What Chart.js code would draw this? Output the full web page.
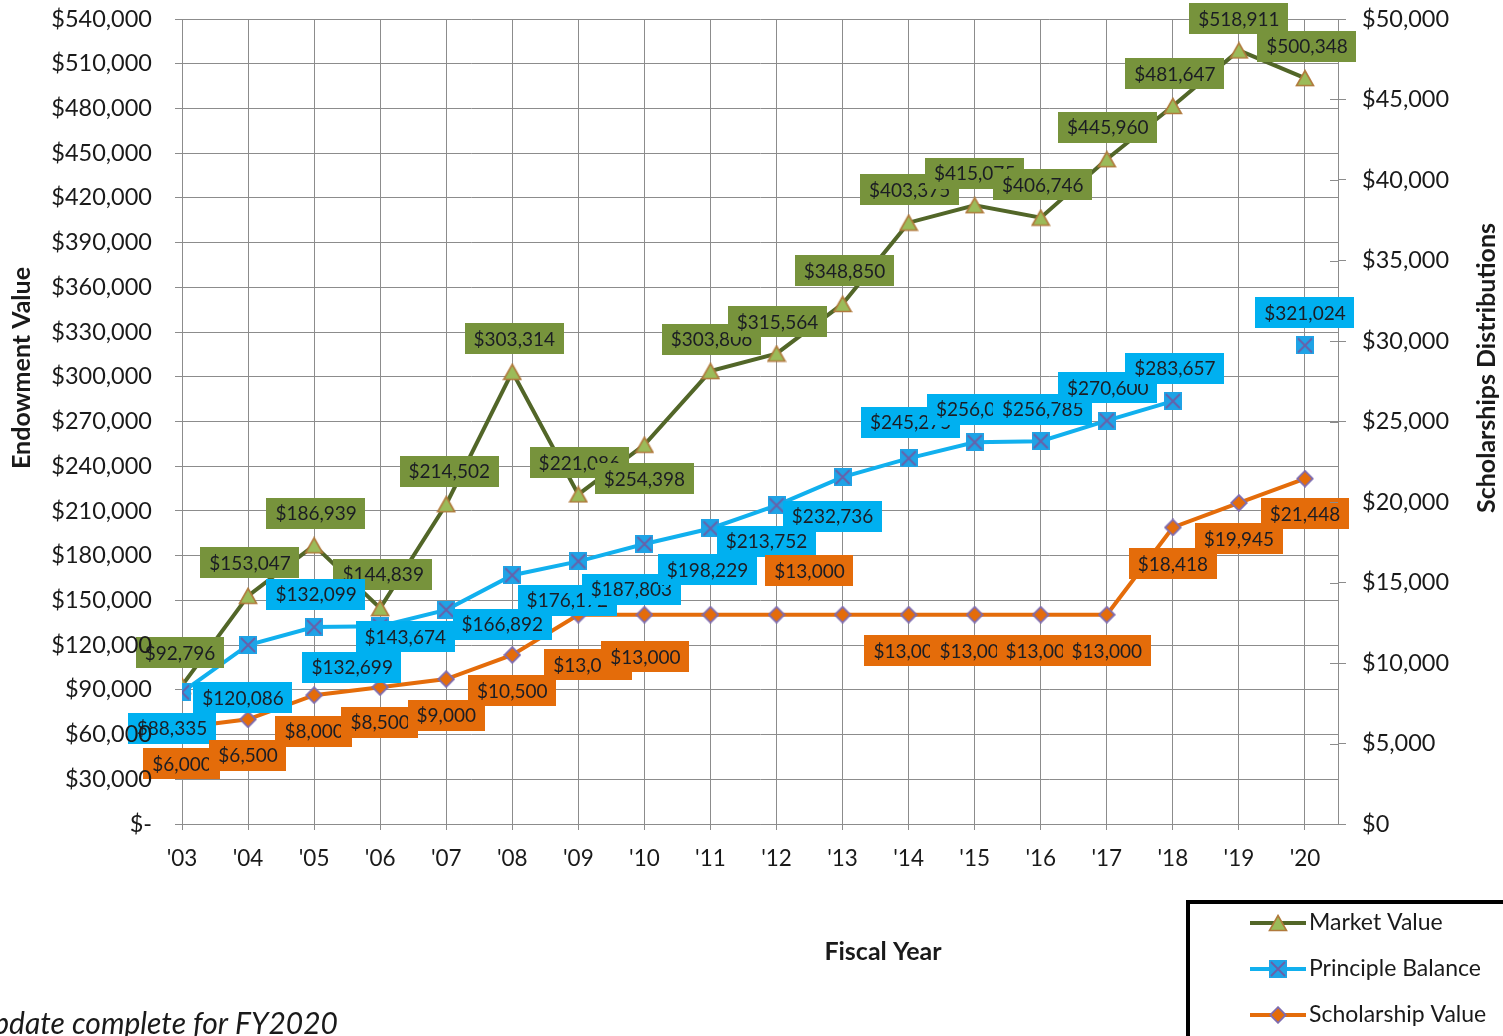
<!DOCTYPE html>
<html>
<head>
<meta charset="utf-8">
<script src="https://cdn.jsdelivr.net/npm/chart.js@4.4.0/dist/chart.umd.min.js"></script>
<style>
html,body{margin:0;padding:0;background:#fff;overflow:hidden}
#wrap{position:relative;width:1503px;height:1036px}
</style>
</head>
<body>
<div id="wrap"><canvas id="c"></canvas></div>
<script>
// ---------- data ----------
const years = ["'03","'04","'05","'06","'07","'08","'09","'10","'11","'12","'13","'14","'15","'16","'17","'18","'19","'20"];
const marketValue = [92796,153047,186939,144839,214502,303314,221086,254398,303806,315564,348850,403375,415075,406746,445960,481647,518911,500348];
const principleBalance = [88335,120086,132099,132699,143674,166892,176172,187803,198229,213752,232736,245275,256075,256785,270600,283657,null,321024];
const scholarshipValue = [6000,6500,8000,8500,9000,10500,13000,13000,13000,13000,13000,13000,13000,13000,13000,18418,19945,21448];
const seriesNames = ["Market Value","Principle Balance","Scholarship Value"];
const leftAxisMax = 540000, leftAxisStep = 30000;
const rightAxisMax = 50000, rightAxisStep = 5000;
const titles = {x:'Fiscal Year', left:'Endowment Value', right:'Scholarships Distributions', note:'Update complete for FY2020'};

// ---------- label placement (pixel offsets from each point; null = label not shown) ----------
const labelOffsets = {
  market: [[-2,-33],[2,-33],[2,-32],[3,-34],[3,-33],[2,-33],[1,-32],[0,34],[1,-32],[1,-32],[2,-33],[1,-33],[0,-32],[2,-33],[1,-32],[2,-32],[0,-32],[2,-32]],
  principle: [[-10,36],[-5,53],[2,-33],[-28,41],[-41,27],[-10,49],[-11,39],[-13,45],[-3,41],[-10,36],[-10,39],[2,-36],[2,-33],[2,-32],[1,-33],[2,-33],null,[0,-33]],
  scholarship: [[0,36],[0,36],[0,36],[0,35],[0,36],[0,36],[10,50],[1,42],null,[33,-44],null,[0,36],[0,36],[0,36],[0,36],[0,36],[0,36],[0,35]]
};

const FONT = 'Lato, "Open Sans", sans-serif';
const GRID = '#8c8c8c';
const TXT = '#1a1a1a';
const TICK_FONT = 23.5;

// ---------- marker images ----------
function mk(w,h,draw){const c=document.createElement('canvas');c.width=w;c.height=h;draw(c.getContext('2d'));return c;}
const triMarker = mk(20,18,g=>{g.beginPath();g.moveTo(10,1.5);g.lineTo(18.5,16.5);g.lineTo(1.5,16.5);g.closePath();g.fillStyle='#9BBB59';g.fill();g.lineWidth=1.6;g.strokeStyle='#B07A3C';g.stroke();});
const sqMarker = mk(18,18,g=>{g.fillStyle='#1FA3E6';g.fillRect(0,0,18,18);g.beginPath();g.moveTo(2,2);g.lineTo(16,16);g.moveTo(16,2);g.lineTo(2,16);g.lineWidth=1.8;g.strokeStyle='#6A5FA8';g.stroke();});
const diaMarker = mk(18,18,g=>{g.beginPath();g.moveTo(9,1.2);g.lineTo(16.8,9);g.lineTo(9,16.8);g.lineTo(1.2,9);g.closePath();g.fillStyle='#E46C0A';g.fill();g.lineWidth=1.8;g.strokeStyle='#7E6CB0';g.stroke();});

const toXY = arr => arr.map((v,i)=>({x:i,y:v}));
const money = v => '$' + Number(v).toLocaleString('en-US');

// ---------- custom plugins ----------
const labelPlugin = {
  id:'boxLabels',
  afterDatasetsDraw(chart){
    const ctx = chart.ctx;
    ctx.save();
    ctx.font = '19px ' + FONT;
    ctx.textAlign = 'center';
    ctx.textBaseline = 'middle';
    chart.data.datasets.forEach((ds,di)=>{
      const meta = chart.getDatasetMeta(di);
      const offs = labelOffsets[ds.key];
      meta.data.forEach((pt,i)=>{
        const raw = ds.data[i];
        if(!offs[i] || raw.y==null) return;
        const cx = pt.x + offs[i][0], cy = pt.y + offs[i][1];
        const t = money(raw.y);
        const w = ctx.measureText(t).width + 18, h = 31;
        ctx.fillStyle = ds.labelBg;
        ctx.fillRect(Math.round(cx - w/2), Math.round(cy - h/2), Math.round(w), h);
        ctx.fillStyle = '#1b1d24';
        ctx.fillText(t, cx, cy + 1);
      });
    });
    ctx.restore();
  },
  afterDraw(chart){
    const ctx = chart.ctx, ca = chart.chartArea, y1 = chart.scales.y1, y = chart.scales.y;
    ctx.save();
    // left-axis tick labels drawn on top of the data labels (as in the original)
    ctx.fillStyle = TXT; ctx.font = TICK_FONT + 'px ' + FONT; ctx.textAlign = 'right'; ctx.textBaseline = 'middle';
    y.ticks.forEach(t=>{ ctx.fillText(t.label, ca.left - 30, y.getPixelForValue(t.value)); });
    // inner part of right-axis cross ticks
    ctx.strokeStyle = GRID; ctx.lineWidth = 1;
    y1.ticks.forEach(t=>{const py=Math.round(y1.getPixelForValue(t.value))+0.5;ctx.beginPath();ctx.moveTo(ca.right-8,py);ctx.lineTo(ca.right,py);ctx.stroke();});
    // axis titles
    ctx.fillStyle = TXT; ctx.font = 'bold 25px ' + FONT; ctx.textAlign='center'; ctx.textBaseline='middle';
    ctx.fillText(titles.x, 883, 952);
    [[22, titles.left],[1487, titles.right]].forEach(([x,t])=>{
      ctx.save(); ctx.translate(x, 368); ctx.rotate(-Math.PI/2); ctx.fillText(t, 0, 0); ctx.restore();
    });
    // legend box
    ctx.strokeStyle = '#000'; ctx.lineWidth = 4;
    ctx.strokeRect(1188, 902, 400, 200);
    const markers = [triMarker, sqMarker, diaMarker];
    const ys = [923, 969, 1015];
    chart.data.datasets.forEach((ds,i)=>{
      ctx.strokeStyle = ds.borderColor; ctx.lineWidth = 4;
      ctx.beginPath(); ctx.moveTo(1250, ys[i]); ctx.lineTo(1306, ys[i]); ctx.stroke();
      const m = markers[i];
      ctx.drawImage(m, 1278 - m.width/2, ys[i] - m.height/2);
      ctx.fillStyle = TXT; ctx.font = '23px ' + FONT; ctx.textAlign='left'; ctx.textBaseline='middle';
      ctx.fillText(ds.label, 1309, ys[i]);
    });
    // footnote (cut off at left edge)
    ctx.font = 'italic 30px ' + FONT; ctx.fillStyle = TXT; ctx.textAlign = 'right'; ctx.textBaseline='alphabetic';
    ctx.fillText(titles.note, 338, 1034);
    ctx.restore();
  }
};

const noVPad = s => { s.paddingTop = 0; s.paddingBottom = 0; };

// ---------- chart ----------
new Chart(document.getElementById('c'), {
  type:'line',
  data:{
    datasets:[
      {key:'market', label:seriesNames[0], data:toXY(marketValue), yAxisID:'y', borderColor:'#526628', borderWidth:4, pointStyle:triMarker, pointRadius:9, labelBg:'#77933C', order:3, tension:0},
      {key:'principle', label:seriesNames[1], data:toXY(principleBalance), yAxisID:'y', borderColor:'#11B0EE', borderWidth:4, pointStyle:sqMarker, pointRadius:9, labelBg:'#00B0F0', order:2, tension:0, spanGaps:false},
      {key:'scholarship', label:seriesNames[2], data:toXY(scholarshipValue), yAxisID:'y1', borderColor:'#E46C0A', borderWidth:4, pointStyle:diaMarker, pointRadius:9, labelBg:'#E46C0A', order:1, tension:0}
    ]
  },
  options:{
    responsive:true, maintainAspectRatio:false, animation:false,
    layout:{padding:{top:19,left:0,right:0,bottom:0}},
    plugins:{legend:{display:false}, tooltip:{enabled:false}},
    scales:{
      x:{
        type:'linear', min:0, max:years.length - 0.5,
        afterBuildTicks:s=>{s.ticks = years.map((_,i)=>({value:i}));},
        ticks:{callback:v=>years[v], color:TXT, font:{family:FONT,size:22.5}, padding:15, maxRotation:0, autoSkip:false},
        grid:{color:GRID, lineWidth:1, tickLength:6},
        border:{color:GRID},
        afterFit:s=>{s.height = 212; s.paddingLeft = 0; s.paddingRight = 0;}
      },
      y:{
        position:'left', min:0, max:leftAxisMax,
        ticks:{stepSize:leftAxisStep, callback:v=> v===0 ? '$-' : money(v), color:'rgba(0,0,0,0)', font:{family:FONT,size:TICK_FONT}, padding:23},
        grid:{color:GRID, lineWidth:1, tickLength:7},
        border:{color:GRID},
        afterFit:s=>{s.width = 182; noVPad(s);}
      },
      y1:{
        position:'right', min:0, max:rightAxisMax,
        ticks:{stepSize:rightAxisStep, callback:v=>money(v), color:TXT, font:{family:FONT,size:TICK_FONT}, padding:16},
        grid:{drawOnChartArea:false, color:GRID, tickLength:8},
        border:{color:GRID},
        afterFit:s=>{s.width = 165; noVPad(s);}
      }
    }
  },
  plugins:[labelPlugin]
});
</script>
</body>
</html>
